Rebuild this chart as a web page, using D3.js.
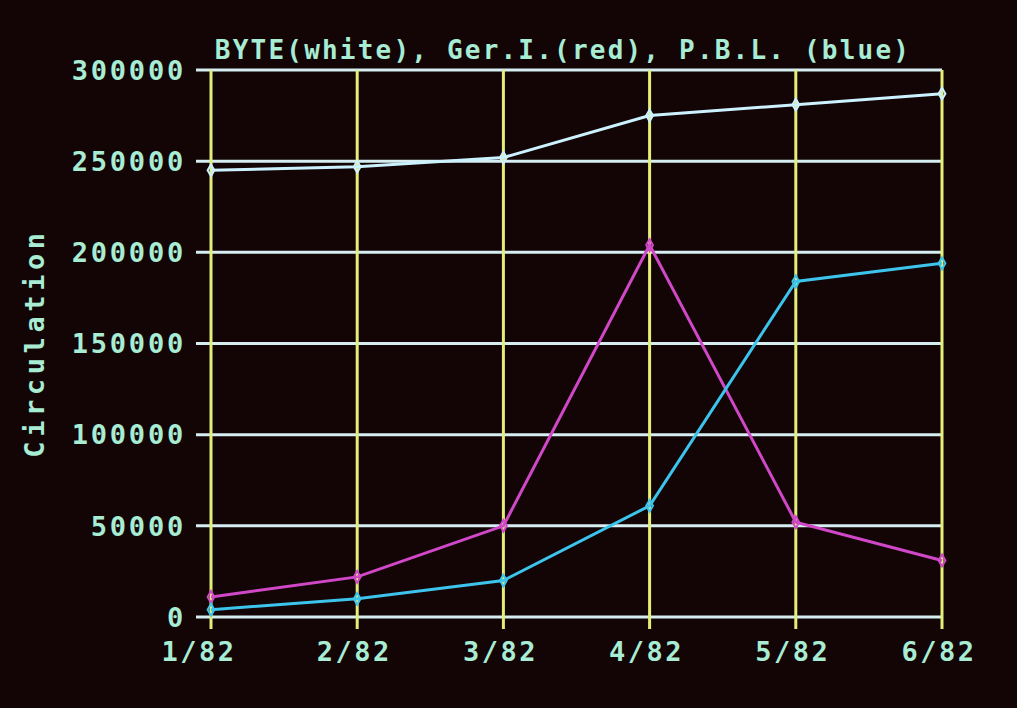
<!DOCTYPE html>
<html><head><meta charset="utf-8">
<script src="https://cdn.jsdelivr.net/npm/d3@7"></script>
<style>
html,body{margin:0;padding:0;background:#130406;}
svg{display:block;}
text{font-family:"DejaVu Sans Mono",monospace;font-weight:bold;}
</style></head>
<body>
<script>
const months = ["1/82","2/82","3/82","4/82","5/82","6/82"];
const byteWhite = [245000,247000,252000,275000,281000,287000];
const gerRed = [11000,22000,50000,204000,52000,31000];
const pblBlue = [4000,10000,20000,61000,184000,194000];
const yTicks = [0,50000,100000,150000,200000,250000,300000];
const title = "BYTE(white), Ger.I.(red), P.B.L. (blue)";
const yLabel = "Circulation";

const W=1017,H=708;
const svg=d3.select("body").append("svg").attr("width",W).attr("height",H);
svg.append("rect").attr("width",W).attr("height",H).attr("fill","#130406");

const x=d3.scalePoint().domain(months).range([211,942]);
const y=d3.scaleLinear().domain([0,300000]).range([617,70]);

const textCol="#a8ecd4";
const hCol="#d6eef2";
const vCol="#e4ee78";

// horizontal gridlines
svg.append("g").selectAll("line").data(yTicks).join("line")
  .attr("x1",196).attr("x2",x("6/82"))
  .attr("y1",d=>y(d)).attr("y2",d=>y(d))
  .attr("stroke",hCol).attr("stroke-width",3);
// vertical gridlines
svg.append("g").selectAll("line").data(months).join("line")
  .attr("x1",d=>x(d)).attr("x2",d=>x(d))
  .attr("y1",y(300000)).attr("y2",y(0)+12)
  .attr("stroke",vCol).attr("stroke-width",3);

// y tick labels
svg.append("g").selectAll("text").data(yTicks).join("text")
  .attr("x",186).attr("y",d=>y(d)).attr("dy","0.36em")
  .attr("text-anchor","end").attr("fill",textCol)
  .attr("font-size",27).attr("letter-spacing",2.8)
  .text(d=>d3.format("d")(d));
// x tick labels
svg.append("g").selectAll("text").data(months).join("text")
  .attr("x",(d,i)=>x(d)-(i===0?12:3)).attr("y",661)
  .attr("text-anchor","middle").attr("fill",textCol)
  .attr("font-size",27).attr("letter-spacing",2.5)
  .text(d=>d);
// title
svg.append("text").attr("x",563).attr("y",59).attr("text-anchor","middle")
  .attr("fill",textCol).attr("font-size",26).attr("letter-spacing",2.2).text(title);
// y label
svg.append("text").attr("transform","translate(44,343) rotate(-90)")
  .attr("text-anchor","middle").attr("fill",textCol)
  .attr("font-size",27).attr("letter-spacing",4.6).text(yLabel);

const series=[
  {vals:byteWhite,col:"#cdf2ff"},
  {vals:gerRed,col:"#d048c8"},
  {vals:pblBlue,col:"#3cc4ec"}
];
const line=d3.line().x((d,i)=>x(months[i])).y(d=>y(d));
series.forEach(s=>{
  svg.append("path").datum(s.vals).attr("d",line)
    .attr("fill","none").attr("stroke",s.col).attr("stroke-width",3);
  svg.append("g").selectAll("path").data(s.vals).join("path")
    .attr("d",d3.symbol(d3.symbolDiamond,40)())
    .attr("transform",(d,i)=>`translate(${x(months[i])},${y(d)})`)
    .attr("fill","none").attr("stroke",s.col).attr("stroke-width",2);
});
</script>
</body></html>
